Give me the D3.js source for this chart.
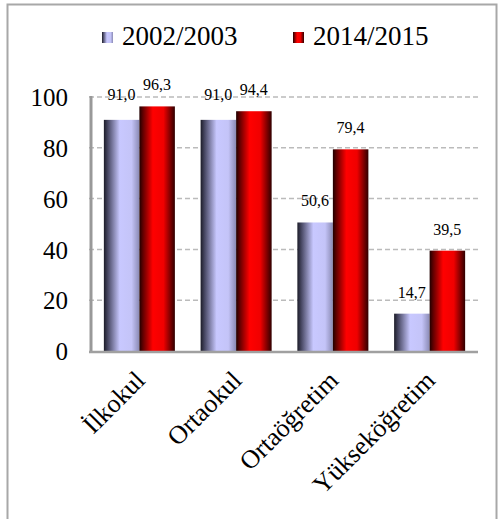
<!DOCTYPE html>
<html><head><meta charset="utf-8">
<script src="https://cdn.jsdelivr.net/npm/d3@7"></script>
<style>html,body{margin:0;padding:0;background:#fff;}svg{display:block;} svg text{font-family:"Liberation Serif","Times New Roman",serif;}</style>
</head><body>
<svg id="c" width="499" height="519"></svg>
<script>
const categories = ["İlkokul", "Ortaokul", "Ortaöğretim", "Yükseköğretim"];
const seriesNames = ["2002/2003", "2014/2015"];
const values2002 = [91.0, 91.0, 50.6, 14.7];
const values2014 = [96.3, 94.4, 79.4, 39.5];
const yTicks = [0, 20, 40, 60, 80, 100];

const svg = d3.select("#c");
const defs = svg.append("defs");
const gb = defs.append("linearGradient").attr("id","gBlue").attr("x1","0").attr("x2","1").attr("y1","0").attr("y2","0");
[[0,"#1c1c28"],[0.12,"#4a4a66"],[0.45,"#c8c8ff"],[0.78,"#c4c4f8"],[1,"#8a8ab4"]].forEach(([o,c])=>gb.append("stop").attr("offset",o).attr("stop-color",c));
const gr = defs.append("linearGradient").attr("id","gRed").attr("x1","0").attr("x2","1").attr("y1","0").attr("y2","0");
[[0,"#200000"],[0.1,"#600000"],[0.38,"#ff0000"],[0.68,"#f00000"],[1,"#300000"]].forEach(([o,c])=>gr.append("stop").attr("offset",o).attr("stop-color",c));
const fills = ["url(#gBlue)","url(#gRed)"];

// outer border
svg.append("rect").attr("x",7.5).attr("y",4.5).attr("width",489).attr("height",530)
  .attr("fill","none").attr("stroke","#a8a8a8").attr("stroke-width",2);

const x0 = d3.scaleBand().domain(categories).range([91,478]).paddingInner(0.266).paddingOuter(0.133);
const x1 = d3.scaleBand().domain(seriesNames).range([0,x0.bandwidth()]);
const y = d3.scaleLinear().domain([0,100]).range([351,97]);

// gridlines
svg.append("g").selectAll("line").data(yTicks.filter(d=>d>0)).join("line")
  .attr("x1",89).attr("x2",478).attr("y1",d=>y(d)).attr("y2",d=>y(d))
  .attr("stroke","#bbbbbb").attr("stroke-width",1.5).attr("stroke-dasharray","5,3");

// y axis labels
const yAxis = d3.axisLeft(y).tickValues(yTicks).tickSize(0).tickPadding(0).tickFormat(d3.format("d"));
const yg = svg.append("g").attr("transform","translate(68,0)").call(yAxis);
yg.select(".domain").remove();
yg.attr("font-family",null);
yg.selectAll("text").attr("font-size",25).attr("fill","#000").attr("dy","0.35em");

// bars
const data = categories.map((c,i)=>({c, vals:[values2002[i], values2014[i]]}));
const groups = svg.append("g").selectAll("g").data(data).join("g").attr("transform",d=>`translate(${x0(d.c)},0)`);
groups.selectAll("rect").data(d=>d.vals.map((v,j)=>({v,j}))).join("rect")
  .attr("x",d=>x1(seriesNames[d.j])).attr("width",x1.bandwidth())
  .attr("y",d=>y(d.v)).attr("height",d=>y(0)-y(d.v)).attr("fill",d=>fills[d.j]);
const fmt = v => v.toFixed(1).replace(".",",");
groups.selectAll("text").data(d=>d.vals.map((v,j)=>({v,j}))).join("text")
  .attr("x",d=>x1(seriesNames[d.j])+x1.bandwidth()/2).attr("y",d=>y(d.v)-(d.v>90&&d.v<92?20:16))
  .attr("text-anchor","middle").attr("font-size",16).attr("fill","#000").text(d=>fmt(d.v));

// axes lines
svg.append("line").attr("x1",91).attr("x2",91).attr("y1",96).attr("y2",353).attr("stroke","#999").attr("stroke-width",3);
svg.append("line").attr("x1",89).attr("x2",478).attr("y1",352).attr("y2",352).attr("stroke","#a0a0a0").attr("stroke-width",2.5);

// x labels
svg.append("g").selectAll("text").data(categories).join("text")
  .attr("transform",d=>`translate(${x0(d)+x0.bandwidth()/2+7},382) rotate(-45)`)
  .attr("text-anchor","end").attr("font-size",26).attr("fill","#000").text(d=>d);

// legend
const legX = [102, 293];
const lg = svg.append("g").selectAll("g").data(seriesNames).join("g").attr("transform",(d,i)=>`translate(${legX[i]},32)`);
lg.append("rect").attr("width",11).attr("height",11).attr("fill",(d,i)=>fills[i]);
lg.append("text").attr("x",20).attr("y",13).attr("font-size",27).attr("fill","#000").text(d=>d);
</script>
</body></html>
